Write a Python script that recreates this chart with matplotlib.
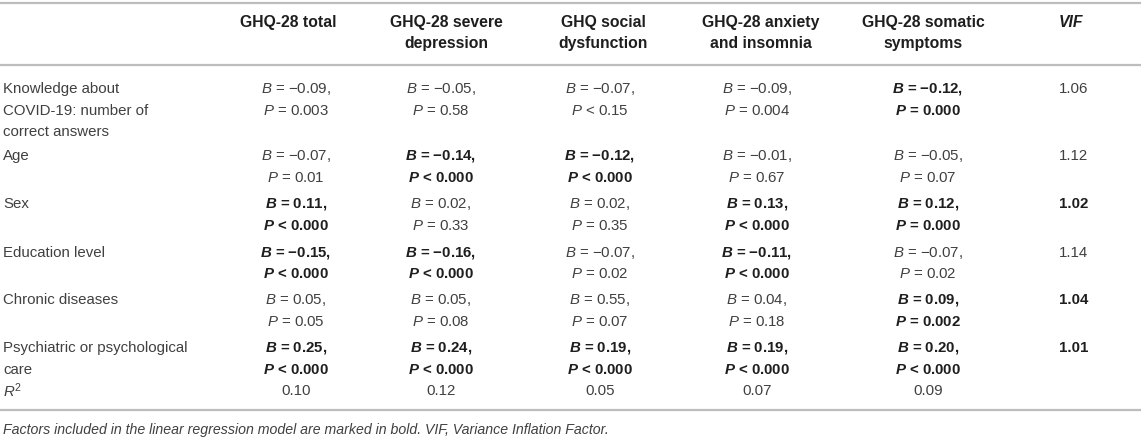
import matplotlib
matplotlib.use("Agg")
import matplotlib.pyplot as plt

plt.rcParams['font.family'] = ['Liberation Sans', 'DejaVu Sans']
plt.rcParams['mathtext.fontset'] = 'custom'
plt.rcParams['mathtext.rm'] = 'Liberation Sans'
plt.rcParams['mathtext.it'] = 'Liberation Sans:italic'
plt.rcParams['mathtext.bf'] = 'Liberation Sans:bold'
plt.rcParams['mathtext.bfit'] = 'Liberation Sans:bold:italic'

# --- table content ---
headers = [["GHQ-28 total"], ["GHQ-28 severe", "depression"], ["GHQ social", "dysfunction"],
           ["GHQ-28 anxiety", "and insomnia"], ["GHQ-28 somatic", "symptoms"]]
rows = [["Knowledge about", "COVID-19: number of", "correct answers"], ["Age"], ["Sex"],
        ["Education level"], ["Chronic diseases"], ["Psychiatric or psychological", "care"]]

b_knowledge = [-0.09, -0.05, -0.07, -0.09, -0.12]
b_age = [-0.07, -0.14, -0.12, -0.01, -0.05]
b_sex = [0.11, 0.02, 0.02, 0.13, 0.12]
b_edu = [-0.15, -0.16, -0.07, -0.11, -0.07]
b_chronic = [0.05, 0.05, 0.55, 0.04, 0.09]
b_psych = [0.25, 0.24, 0.19, 0.19, 0.20]

p_knowledge = ["= 0.003", "= 0.58", "< 0.15", "= 0.004", "= 0.000"]
p_age = ["= 0.01", "< 0.000", "< 0.000", "= 0.67", "= 0.07"]
p_sex = ["< 0.000", "= 0.33", "= 0.35", "< 0.000", "= 0.000"]
p_edu = ["< 0.000", "< 0.000", "= 0.02", "< 0.000", "= 0.02"]
p_chronic = ["= 0.05", "= 0.08", "= 0.07", "= 0.18", "= 0.002"]
p_psych = ["< 0.000", "< 0.000", "< 0.000", "< 0.000", "< 0.000"]

bold_knowledge = [0, 0, 0, 0, 1]
bold_age = [0, 1, 1, 0, 0]
bold_sex = [1, 0, 0, 1, 1]
bold_edu = [1, 1, 0, 1, 0]
bold_chronic = [0, 0, 0, 0, 1]
bold_psych = [1, 1, 1, 1, 1]

vif = ["1.06", "1.12", "1.02", "1.14", "1.04", "1.01"]
vif_bold = [0, 0, 1, 0, 1, 1]
r2 = ["0.10", "0.12", "0.05", "0.07", "0.09"]

footnote = "Factors included in the linear regression model are marked in bold. VIF, Variance Inflation Factor."

b_all = [b_knowledge, b_age, b_sex, b_edu, b_chronic, b_psych]
p_all = [p_knowledge, p_age, p_sex, p_edu, p_chronic, p_psych]
bold_all = [bold_knowledge, bold_age, bold_sex, bold_edu, bold_chronic, bold_psych]

# --- layout (pixel coords) ---
W, H = 1143, 443
head_x = [288, 446, 603, 761, 923, 1071]
cell_x = [296, 441, 600, 757, 928, 1074]
row_y = [89, 156, 204, 253, 300, 348]
r2_y = 391
dy = 21.5
fs = 10.8
fs_head = 11.3
reg_col = '#404040'
bold_col = '#1e1e1e'
line_col = '#bdbdbd'

fig = plt.figure(figsize=(W / 100, H / 100), dpi=100)
ax = fig.add_axes([0, 0, 1, 1])
ax.set_xlim(0, W)
ax.set_ylim(H, 0)
ax.axis('off')

for y in [3, 65, 410]:
    ax.plot([0, 1141], [y, y], color=line_col, lw=1.6, solid_capstyle='butt')

# header
for i, lines in enumerate(headers):
    for k, t in enumerate(lines):
        ax.text(head_x[i], 22 + k * dy, t, ha='center', va='center', fontsize=fs_head,
                fontweight='bold', color=bold_col)
ax.text(head_x[5], 22, "VIF", ha='center', va='center', fontsize=fs_head,
        fontweight='bold', fontstyle='italic', color=bold_col)

# body
for r in range(len(rows)):
    y0 = row_y[r]
    for k, t in enumerate(rows[r]):
        ax.text(3, y0 + k * dy, t, ha='left', va='center', fontsize=fs, color=reg_col)
    for c in range(5):
        bs = f"{b_all[r][c]:.2f}".replace('-', '\u2212')
        if bold_all[r][c]:
            l1 = r"$\mathbfit{B}$ = " + bs + ","
            l2 = r"$\mathbfit{P}$ " + p_all[r][c]
            kw = dict(fontweight='bold', color=bold_col)
        else:
            l1 = r"$B$ = " + bs + ","
            l2 = r"$P$ " + p_all[r][c]
            kw = dict(color=reg_col)
        ax.text(cell_x[c], y0, l1, ha='center', va='center', fontsize=fs, **kw)
        ax.text(cell_x[c], y0 + dy, l2, ha='center', va='center', fontsize=fs, **kw)
    ax.text(cell_x[5], y0, vif[r], ha='center', va='center', fontsize=fs,
            fontweight='bold' if vif_bold[r] else 'normal',
            color=bold_col if vif_bold[r] else reg_col)

# R^2 row
ax.text(3, r2_y, r"$R^{\mathrm{2}}$", ha='left', va='center', fontsize=fs, color=reg_col)
for c in range(5):
    ax.text(cell_x[c], r2_y, r2[c], ha='center', va='center', fontsize=fs, color=reg_col)

ax.text(3, 430, footnote, ha='left', va='center', fontsize=10.2, fontstyle='italic', color=reg_col)

fig.savefig("out.png", dpi=100)
